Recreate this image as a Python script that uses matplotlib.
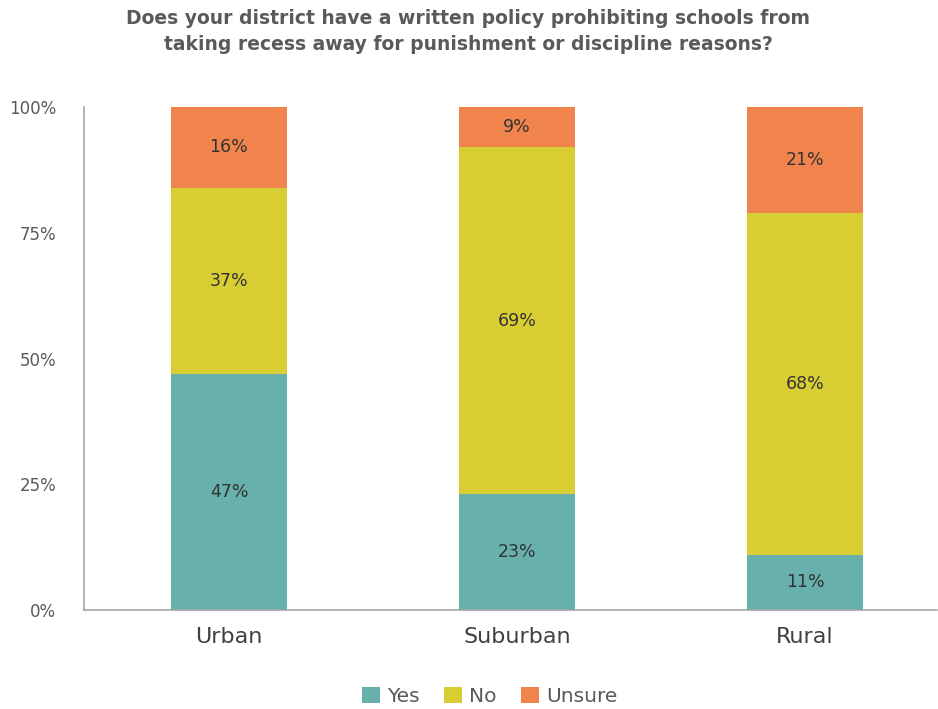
import matplotlib
matplotlib.use("Agg")
import matplotlib.pyplot as plt
import numpy as np

categories = ["Urban", "Suburban", "Rural"]
yes = [47, 23, 11]
no = [37, 69, 68]
unsure = [16, 9, 21]
series_names = ["Yes", "No", "Unsure"]
colors = ["#67B0AC", "#D8CE33", "#F0844C"]
yticks = [0, 25, 50, 75, 100]
ytick_labels = ["0%", "25%", "50%", "75%", "100%"]
title = ("Does your district have a written policy prohibiting schools from\n"
         "taking recess away for punishment or discipline reasons?")

plt.rcParams['font.family'] = ['DejaVu Sans']

fig = plt.figure(figsize=(9.38, 7.09), dpi=100)
ax = fig.add_axes([0.0896, 0.1396, 0.9094, 0.7094])

x = np.arange(len(categories))
bottom = np.zeros(len(categories))
handles = []
for name, vals, c in zip(series_names, [yes, no, unsure], colors):
    vals = np.array(vals, dtype=float)
    b = ax.bar(x, vals, 0.403, bottom=bottom, color=c, label=name)
    handles.append(b)
    for xi, v, bt in zip(x, vals, bottom):
        top = min(bt + v, 100)
        ax.text(xi, (bt + top) / 2, f"{int(v)}%", ha="center", va="center",
                fontsize=12.5, color="#333333")
    bottom += vals

ax.set_xlim(-0.503, 2.458)
ax.set_ylim(0, 100)
ax.set_yticks(yticks)
ax.set_yticklabels(ytick_labels, fontsize=12, color="#595959")
ax.set_xticks(x)
ax.set_xticklabels(categories, fontsize=16, color="#404040")
ax.tick_params(axis="both", length=0)
ax.tick_params(axis="x", pad=12)
ax.tick_params(axis="y", pad=20)
for s in ["top", "right"]:
    ax.spines[s].set_visible(False)
for s in ["left", "bottom"]:
    ax.spines[s].set_color("#A6A6A6")
    ax.spines[s].set_linewidth(1.2)

fig.text(0.499, 0.987, title, ha="center", va="top", fontsize=13.5,
         fontweight="bold", color="#5a5a5a", linespacing=1.45)

leg = fig.legend(handles=handles, labels=series_names, loc="center",
                 bbox_to_anchor=(0.522, 0.018), ncol=3, frameon=False,
                 fontsize=14.5, handlelength=0.9, handleheight=0.9,
                 handletextpad=0.35, columnspacing=1.2, borderaxespad=0)
for t in leg.get_texts():
    t.set_color("#595959")

fig.savefig("out.png", dpi=100)
